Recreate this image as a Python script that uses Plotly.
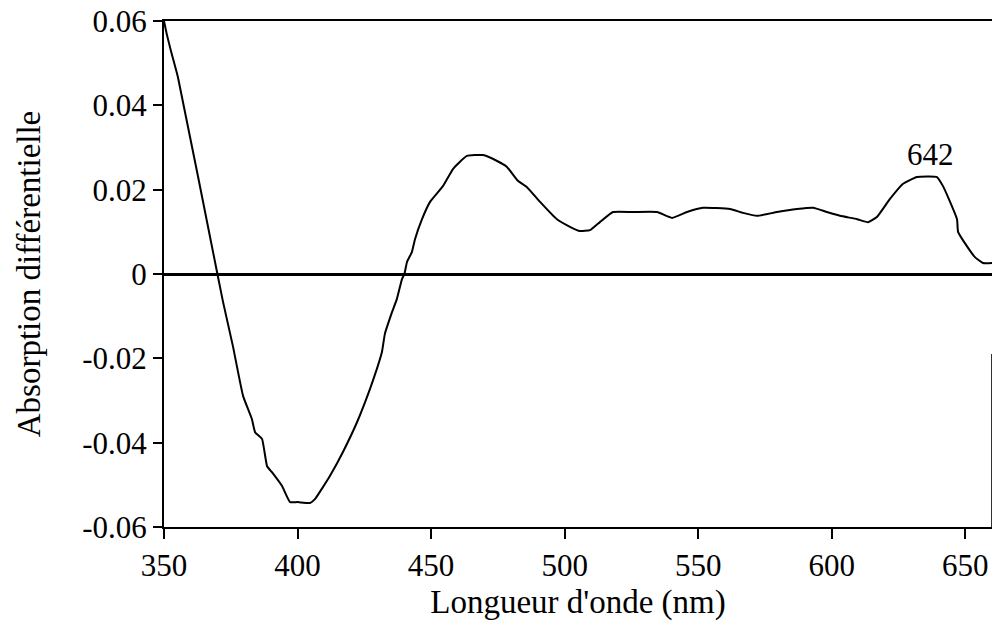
import plotly.graph_objects as go

wavelength_nm = [350, 351, 352.6, 355.2, 370.0, 372.1, 375.8, 379.6, 382.9, 384.1,
                 386.7, 388.6, 390.4, 394.2, 397.2, 400, 404.7, 406.5, 412.1, 417.0,
                 422.3, 427.1, 429.7, 431.6, 432.7, 435.4, 437.2, 439.1, 440, 441,
                 442.8, 444, 446.6, 449.6, 454.5, 458.2, 463.4, 469.4, 474.7, 478.4,
                 482.5, 485.9, 490.8, 497.1, 502, 505.7, 509.5, 513.2, 518.1, 525.6,
                 534.6, 540.2, 545.8, 551.8, 561.9, 566.8, 572, 579.5, 587, 593,
                 598.2, 603.1, 609.5, 613.6, 616.9, 621.8, 626.7, 631.9, 639.4, 641.6,
                 644.3, 646.9, 647.3, 650.6, 653.6, 656.6, 660]
absorption = [0.060, 0.057, 0.0529, 0.0467, 0.0, -0.0066, -0.0171, -0.0289, -0.0344, -0.0375,
              -0.0391, -0.0456, -0.0470, -0.0503, -0.0541, -0.0541, -0.0543, -0.0534, -0.0479, -0.0422,
              -0.0351, -0.0273, -0.0225, -0.0185, -0.0142, -0.0090, -0.0059, -0.0012, 0.0, 0.0029,
              0.0052, 0.0083, 0.0130, 0.0171, 0.0209, 0.0249, 0.0280, 0.0282, 0.0268, 0.0254,
              0.0221, 0.0206, 0.0171, 0.0130, 0.0112, 0.0102, 0.0104, 0.0123, 0.0147, 0.0147,
              0.0147, 0.0133, 0.0147, 0.0157, 0.0154, 0.0145, 0.0138, 0.0147, 0.0154, 0.0157,
              0.0147, 0.0138, 0.0130, 0.0123, 0.0135, 0.0178, 0.0214, 0.0230, 0.0230, 0.0209,
              0.0171, 0.0130, 0.0100, 0.0066, 0.0040, 0.0026, 0.0026]

x_ticks = [350, 400, 450, 500, 550, 600, 650]
y_ticks = [-0.06, -0.04, -0.02, 0, 0.02, 0.04, 0.06]
y_tick_labels = ["-0.06", "-0.04", "-0.02", "0", "0.02", "0.04", "0.06"]
peak_label = "642"
peak_pos = (637, 0.0284)

FONT = "Liberation Serif, Times New Roman, serif"

fig = go.Figure()
fig.add_trace(go.Scatter(x=wavelength_nm, y=absorption, mode="lines",
                         line=dict(color="black", width=2, shape="spline", smoothing=0.4),
                         hoverinfo="skip", showlegend=False))

fig.add_annotation(x=peak_pos[0], y=peak_pos[1], text=peak_label, showarrow=False,
                   font=dict(family=FONT, size=31, color="black"))

# partial right frame (as in the scanned figure)
fig.add_shape(type="line", xref="x", yref="y", x0=660, x1=660, y0=-0.06, y1=-0.019,
              line=dict(color="#333333", width=2))

fig.update_xaxes(range=[350, 660], tickvals=x_ticks, ticks="outside", ticklen=10,
                 tickwidth=2, tickcolor="black", showline=True, linecolor="black",
                 linewidth=2, mirror=True, showgrid=False, zeroline=False,
                 automargin=False,
                 tickfont=dict(family=FONT, size=31, color="black"),
                 title=dict(text="Longueur d'onde (nm)", standoff=8,
                            font=dict(family=FONT, size=33, color="black")))
fig.update_yaxes(range=[-0.06, 0.06], tickvals=y_ticks, ticktext=y_tick_labels,
                 ticks="outside", ticklen=9, tickwidth=2, tickcolor="black",
                 showline=True, linecolor="black", linewidth=2, showgrid=False,
                 zeroline=True, zerolinecolor="black", zerolinewidth=3,
                 automargin=False,
                 tickfont=dict(family=FONT, size=31, color="black"),
                 title=dict(text="Absorption différentielle", standoff=32,
                            font=dict(family=FONT, size=33, color="black")))

fig.update_layout(width=993, height=632, autosize=False,
                  margin=dict(l=164, r=1, t=21, b=105),
                  plot_bgcolor="white", paper_bgcolor="white")

fig.write_html("out.html", config={"displayModeBar": False},
               post_script="document.body.style.margin='0';document.body.style.overflow='hidden';")
